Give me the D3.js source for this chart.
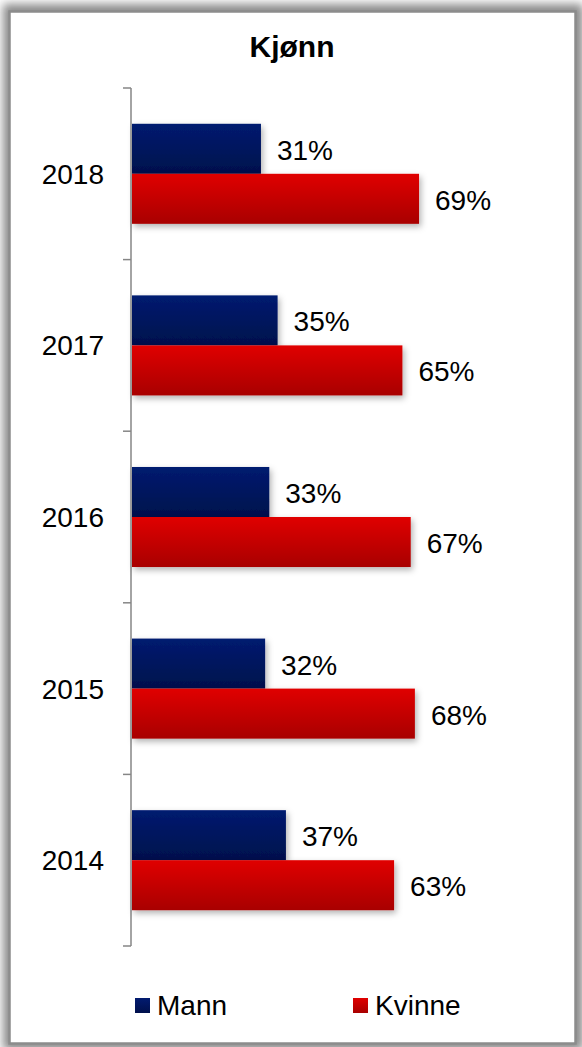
<!DOCTYPE html>
<html><head><meta charset="utf-8">
<script src="https://cdn.jsdelivr.net/npm/d3@7"></script>
<style>html,body{margin:0;padding:0;background:#fff;}svg{display:block;}</style>
</head><body>
<script>
const title = "Kjønn";
const categories = ["2018","2017","2016","2015","2014"];
const seriesNames = ["Mann","Kvinne"];
const mann = [0.31,0.35,0.33,0.32,0.37];
const kvinne = [0.69,0.65,0.67,0.68,0.63];
const labelFmt = d3.format(".0%");

const W = 582, H = 1047;
const svg = d3.select("body").append("svg").attr("width",W).attr("height",H);
const defs = svg.append("defs");

// frame shadow
const fs = defs.append("filter").attr("id","fshadow").attr("x","-10%").attr("y","-10%").attr("width","120%").attr("height","120%");
fs.append("feGaussianBlur").attr("stdDeviation",5);
svg.append("rect").attr("x",3).attr("y",4).attr("width",580).attr("height",1046).attr("fill","#8a8a8a").attr("filter","url(#fshadow)");
svg.append("rect").attr("x",9.5).attr("y",11.5).attr("width",566).attr("height",1032)
  .attr("fill","#fff").attr("stroke","#8c8c8c").attr("stroke-width",2.5);

// gradients
function grad(id, c1, c2){
  const g = defs.append("linearGradient").attr("id",id).attr("x1",0).attr("y1",0).attr("x2",0).attr("y2",1);
  g.append("stop").attr("offset","0%").attr("stop-color",c1);
  g.append("stop").attr("offset","100%").attr("stop-color",c2);
}
grad("gMann","#021b70","#00104c");
grad("gKvinne","#e00000","#a80000");
const bs = defs.append("filter").attr("id","bshadow").attr("x","-5%").attr("y","-20%").attr("width","115%").attr("height","160%");
bs.append("feDropShadow").attr("dx",2).attr("dy",3).attr("stdDeviation",3).attr("flood-color","#000").attr("flood-opacity",0.3);

svg.append("text").attr("x",292).attr("y",57).attr("text-anchor","middle")
  .attr("font-family","'Liberation Sans', Arial, sans-serif").attr("font-weight","bold")
  .attr("font-size",30).attr("fill","#000").text(title);

const y = d3.scaleBand().domain(categories).range([88,946]).paddingInner(0.417).paddingOuter(0.2085);
const x = d3.scaleLinear().domain([0,1]).range([132,548]);

// axis
const axisG = svg.append("g").attr("transform","translate(131,0)");
const tickYs = categories.map(c => y(c) - y.step()*y.paddingInner()/2).concat([946]);
axisG.append("line").attr("x1",0).attr("x2",0).attr("y1",88).attr("y2",946).attr("stroke","#868686").attr("stroke-width",1.5);
axisG.selectAll("line.t").data(tickYs).join("line").attr("class","t")
  .attr("x1",-8).attr("x2",0).attr("y1",d=>d).attr("y2",d=>d).attr("stroke","#868686").attr("stroke-width",1.5);

svg.append("g").selectAll("text").data(categories).join("text")
  .attr("x",104).attr("y",c=>y(c)+y.bandwidth()/2+10)
  .attr("text-anchor","end").attr("font-family","'Liberation Sans', Arial, sans-serif")
  .attr("font-size",28).attr("fill","#000").text(c=>c);

const sub = d3.scaleBand().domain(seriesNames).range([0,y.bandwidth()]);
const series = [{name:"Mann",vals:mann,fill:"url(#gMann)"},{name:"Kvinne",vals:kvinne,fill:"url(#gKvinne)"}];
series.forEach(s=>{
  const g = svg.append("g");
  g.selectAll("rect").data(s.vals).join("rect")
    .attr("x",x(0)).attr("y",(d,i)=>y(categories[i])+sub(s.name))
    .attr("width",d=>x(d)-x(0)).attr("height",sub.bandwidth())
    .attr("fill",s.fill).attr("filter","url(#bshadow)");
  g.selectAll("text").data(s.vals).join("text")
    .attr("x",d=>x(d)+16).attr("y",(d,i)=>y(categories[i])+sub(s.name)+sub.bandwidth()/2+11)
    .attr("font-family","'Liberation Sans', Arial, sans-serif").attr("font-size",28).attr("fill","#000")
    .text(d=>labelFmt(d));
});

// legend
const legX = [135,353];
const lg = svg.append("g");
series.forEach((s,i)=>{
  lg.append("rect").attr("x",legX[i]).attr("y",998).attr("width",15).attr("height",15).attr("fill",s.fill);
  lg.append("text").attr("x",legX[i]+22).attr("y",1015)
    .attr("font-family","'Liberation Sans', Arial, sans-serif").attr("font-size",28).attr("fill","#000").text(s.name);
});
</script>
</body></html>
